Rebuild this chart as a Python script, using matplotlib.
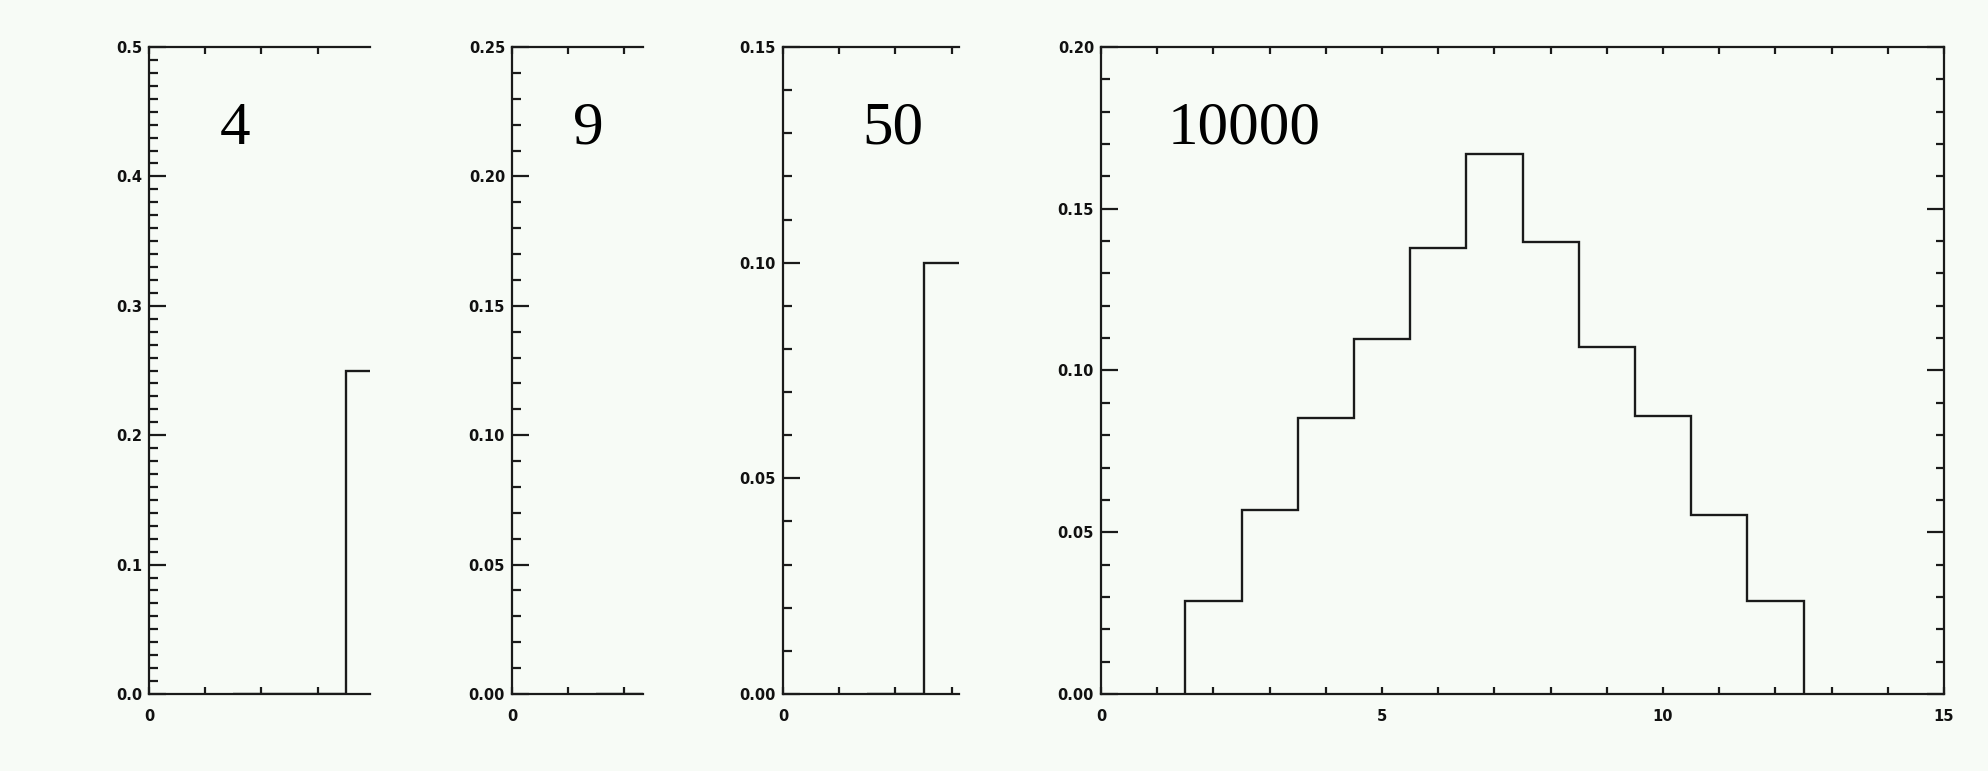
import numpy as np
import matplotlib
matplotlib.use("Agg")
import matplotlib.pyplot as plt
from matplotlib.ticker import MultipleLocator, FixedLocator, FormatStrFormatter

# ---------------- data ----------------
panel_labels = ["4", "9", "50", "10000"]
# bin centres (sum of two dice) and visible relative frequencies per panel
centers_4 = [2, 3, 4]
freq_4 = [0.0, 0.0, 0.25]
centers_9 = [2]
freq_9 = [0.0]
centers_50 = [2, 3]
freq_50 = [0.0, 0.10]
centers_10000 = [2, 3, 4, 5, 6, 7, 8, 9, 10, 11, 12]
freq_10000 = [0.0287, 0.0570, 0.0854, 0.1096, 0.1380, 0.1669,
              0.1398, 0.1074, 0.0860, 0.0552, 0.0287]
ymax_list = [0.5, 0.25, 0.15, 0.20]
ymajor_list = [0.1, 0.05, 0.05, 0.05]
yfmt_list = ["%.1f", "%.2f", "%.2f", "%.2f"]
xmajor_ticks = [0, 5, 10, 15]
xmax_full = 15

# ---------------- layout ----------------
W, H = 1988, 771
DPI = 100
bg = "#f7fbf6"
fig = plt.figure(figsize=(W / DPI, H / DPI), dpi=DPI, facecolor=bg)

top_px, bot_px = 47, 694
full_left, full_right = 1101, 1944
px_per_unit = (full_right - full_left) / xmax_full
panel_px = [(149, 370), (512, 643), (783, 959), (1101, 1944)]
text_px = [(220, 144), (573, 144), (862, 144), (1168, 144)]

centers_all = [centers_4, centers_9, centers_50, centers_10000]
freq_all = [freq_4, freq_9, freq_50, freq_10000]

lc = "#1a1a1a"
lw = 1.6
px = 0.72  # points per pixel

for i in range(4):
    l, r = panel_px[i]
    ax = fig.add_axes([l / W, 1 - bot_px / H, (r - l) / W, (bot_px - top_px) / H])
    ax.set_facecolor(bg)
    xmax = (r - l) / px_per_unit
    ax.set_xlim(0, xmax)
    ax.set_ylim(0, ymax_list[i])

    c = np.asarray(centers_all[i], dtype=float)
    edges = np.append(c - 0.5, c[-1] + 0.5)
    ax.stairs(freq_all[i], edges, baseline=0, color=lc, lw=lw * 1.05)

    for s in ax.spines.values():
        s.set_color(lc)
        s.set_linewidth(lw)
    full = (i == 3)
    ax.spines["right"].set_visible(full)

    ax.xaxis.set_major_locator(FixedLocator(xmajor_ticks))
    ax.xaxis.set_minor_locator(MultipleLocator(1))
    ax.xaxis.set_major_formatter(FormatStrFormatter("%d"))
    ax.yaxis.set_major_locator(MultipleLocator(ymajor_list[i]))
    ax.yaxis.set_minor_locator(MultipleLocator(0.01))
    ax.yaxis.set_major_formatter(FormatStrFormatter(yfmt_list[i]))

    ax.tick_params(axis="x", which="both", direction="in", top=True,
                   color=lc, width=lw, labelsize=10.5, pad=11, labelcolor="#111111",
                   length=7 * px)
    ax.tick_params(axis="y", which="both", direction="in", right=full,
                   color=lc, width=lw, labelsize=10.5, pad=5, labelcolor="#111111")
    ax.tick_params(axis="y", which="major", length=17 * px)
    ax.tick_params(axis="y", which="minor", length=8.5 * px)
    for lab in ax.get_xticklabels() + ax.get_yticklabels():
        lab.set_fontweight("bold")

    tx, ty = text_px[i]
    fig.text(tx / W, 1 - ty / H, panel_labels[i], fontsize=44,
             family="Liberation Serif", color="black", ha="left", va="baseline")

fig.savefig("out.png", dpi=DPI, facecolor=bg)
